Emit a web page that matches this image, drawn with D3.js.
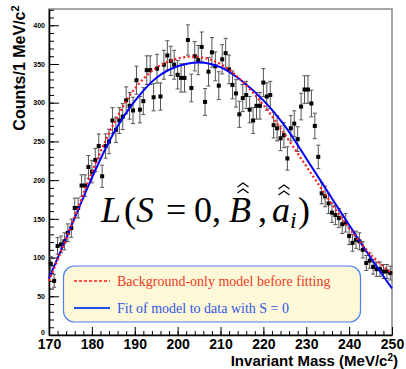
<!DOCTYPE html>
<html>
<head>
<meta charset="UTF-8">
<title>Invariant mass fit</title>
<script src="https://d3js.org/d3.v7.min.js"></script>
<style>
  body { margin: 0; background: #fff; }
  svg { display: block; }
</style>
</head>
<body>
<div id="chart"></div>
<script>
// binning: 100 bins of 0.8 MeV from 170 to 250
var binStart = 170, binWidth = 0.8;

// counts per bin
var counts = [92,70,115,117,121,132,138,164,164,193,
  193,217,211,226,244,205,244,250,277,265,
  277,282,303,296,290,329,291,302,342,342,
  307,344,308,349,361,354,349,336,332,332,
  381,319,360,355,372,301,340,365,347,322,
  356,364,343,323,312,285,306,310,291,277,
  296,296,326,308,310,271,267,254,258,228,
  267,273,253,295,317,317,299,270,230,183,
  179,170,158,155,151,143,145,128,119,123,
  121,110,93,96,88,85,85,82,82,80];

// model curves sampled every 5 MeV
var curveMass = [170,175,180,185,190,195,200,205,210,215,220,225,230,235,240,245,250];
var bgModel  = [70,138,210,272,318,345,357,359,350,328,297,259,218,177,138,104,79];
var fitModel = [73,138,203,260,302,332,347,352,346,328,303,270,228,185,142,100,60];

var xTicks = [170,180,190,200,210,220,230,240,250];
var yTicks = [0,50,100,150,200,250,300,350,400];

var W = 406, H = 369;
var svg = d3.select("#chart").append("svg")
  .attr("width", W).attr("height", H);

var x = d3.scaleLinear().domain([170, 250]).range([49, 392]);
var y = d3.scaleLinear().domain([0, 421]).range([335, 9]);

// frame
svg.append("rect")
  .attr("x", 49).attr("y", 9)
  .attr("width", 392 - 49).attr("height", 335 - 9)
  .attr("fill", "none").attr("stroke", "#888").attr("stroke-width", 1.5);

// minor ticks
svg.append("g")
  .attr("transform", "translate(49,0)")
  .call(d3.axisLeft(y).tickValues(d3.range(0, 421, 10)).tickSize(-5).tickFormat(""))
  .call(function(g) { g.select(".domain").remove(); });
svg.append("g")
  .attr("transform", "translate(0,335)")
  .call(d3.axisBottom(x).tickValues(d3.range(170, 251, 2)).tickSize(-4).tickFormat(""))
  .call(function(g) { g.select(".domain").remove(); });

// major ticks + labels
var yAxis = svg.append("g")
  .attr("transform", "translate(49,0)")
  .call(d3.axisLeft(y).tickValues(yTicks).tickSize(-10).tickPadding(4).tickSizeOuter(0));
yAxis.selectAll("text")
  .style("font", "bold 7px 'Liberation Sans', Arial, sans-serif")
  .attr("fill", "#000")
  .attr("dy", function(d) { return d === 0 ? "-0.1em" : "0.32em"; });

var xAxis = svg.append("g")
  .attr("transform", "translate(0,335)")
  .call(d3.axisBottom(x).tickValues(xTicks).tickSize(-8).tickPadding(4).tickSizeOuter(0));
xAxis.selectAll("text")
  .style("font", "bold 14px 'Liberation Sans', Arial, sans-serif")
  .attr("fill", "#000");
svg.selectAll(".domain").attr("stroke", "#000").attr("stroke-width", 1.5);
svg.selectAll(".tick line").attr("stroke", "#000");

// data points with error bars
var pts = counts.map(function(c, i) {
  return { m: binStart + binWidth * (i + 0.5), n: c, e: Math.sqrt(c) };
});
var pg = svg.append("g");
pg.selectAll(".eb").data(pts).enter().append("line")
  .attr("x1", function(d) { return x(d.m); })
  .attr("x2", function(d) { return x(d.m); })
  .attr("y1", function(d) { return y(d.n - d.e); })
  .attr("y2", function(d) { return y(d.n + d.e); })
  .attr("stroke", "#555").attr("stroke-width", 1);
[-1, 1].forEach(function(s) {
  pg.selectAll(".cap" + s).data(pts).enter().append("line")
    .attr("x1", function(d) { return x(d.m) - 2; })
    .attr("x2", function(d) { return x(d.m) + 2; })
    .attr("y1", function(d) { return y(d.n + s * d.e); })
    .attr("y2", function(d) { return y(d.n + s * d.e); })
    .attr("stroke", "#555").attr("stroke-width", 1);
});
pg.selectAll(".pt").data(pts).enter().append("rect")
  .attr("x", function(d) { return x(d.m) - 2; })
  .attr("y", function(d) { return y(d.n) - 2; })
  .attr("width", 4).attr("height", 4)
  .attr("fill", "#000");

// model curves
var line = function(vals) {
  return d3.line()
    .x(function(d, i) { return x(curveMass[i]); })
    .y(function(d) { return y(d); })
    .curve(d3.curveCatmullRom)(vals);
};
svg.append("path").attr("d", line(fitModel))
  .attr("fill", "none").attr("stroke", "#0000ff").attr("stroke-width", 2);
svg.append("path").attr("d", line(bgModel))
  .attr("fill", "none").attr("stroke", "#ff1a1a").attr("stroke-width", 2.2)
  .attr("stroke-dasharray", "2,2.5");

// big formula, laid out glyph by glyph like the TeX original
var f = svg.append("text")
  .attr("y", 222)
  .style("font-family", "'Liberation Serif', 'Times New Roman', serif")
  .style("font-size", "36px").attr("fill", "#000");
var parts = [
  { t: "L", x: 101, it: true },
  { t: "(", x: 124 },
  { t: "S", x: 136, it: true },
  { t: "=", x: 166 },
  { t: "0", x: 194 },
  { t: ",", x: 212 },
  { t: "B", x: 229, it: true },
  { t: ",", x: 258 },
  { t: "a", x: 272, it: true },
  { t: "i", x: 290, it: true, sub: true },
  { t: ")", x: 298 }
];
parts.forEach(function(p) {
  f.append("tspan")
    .attr("x", p.x)
    .attr("y", p.sub ? 228 : 222)
    .style("font-style", p.it ? "italic" : "normal")
    .style("font-size", p.sub ? "24px" : "36px")
    .text(p.t);
});

var fnode = f.node();
function hats(idx, tipY) {
  var ext = fnode.getExtentOfChar(idx);
  var cx = ext.x + ext.width / 2 + 3;
  [tipY, tipY + 6].forEach(function(ty) {
    svg.append("path")
      .attr("d", "M" + (cx - 5.5) + "," + (ty + 4) + "L" + cx + "," + ty + "L" + (cx + 5.5) + "," + (ty + 4))
      .attr("fill", "none").attr("stroke", "#000").attr("stroke-width", 1.2);
  });
}
hats(6, 183);
hats(8, 185);

// legend
var lg = svg.append("g");
lg.append("rect")
  .attr("x", 63.5).attr("y", 266).attr("width", 297).attr("height", 56)
  .attr("rx", 11).attr("ry", 11)
  .attr("fill", "#fdf9d8").attr("stroke", "#4d7cf2").attr("stroke-width", 1.2);
lg.append("line").attr("x1", 74).attr("x2", 110).attr("y1", 281).attr("y2", 281)
  .attr("stroke", "#ff1a1a").attr("stroke-width", 1.5).attr("stroke-dasharray", "3,2");
lg.append("line").attr("x1", 74).attr("x2", 110).attr("y1", 308).attr("y2", 308)
  .attr("stroke", "#1f4fe8").attr("stroke-width", 2);
lg.append("text").attr("x", 117).attr("y", 286)
  .style("font", "14px 'Liberation Serif', 'Times New Roman', serif")
  .attr("fill", "#ee3a24").text("Background-only model before fitting");
lg.append("text").attr("x", 117).attr("y", 313)
  .style("font", "14px 'Liberation Serif', 'Times New Roman', serif")
  .attr("fill", "#2f55e4").text("Fit of model to data with S = 0");

// axis titles
var yt = svg.append("text")
  .attr("transform", "translate(25,68) rotate(-90)")
  .attr("text-anchor", "middle")
  .style("font", "bold 16px 'Liberation Sans', Arial, sans-serif");
yt.append("tspan").text("Counts/1 MeV/c");
yt.append("tspan").attr("dy", -6).style("font-size", "11px").text("2");

var xt = svg.append("text")
  .attr("x", 398).attr("y", 365.5)
  .attr("text-anchor", "end")
  .style("font", "bold 15px 'Liberation Sans', Arial, sans-serif");
xt.append("tspan").text("Invariant Mass (MeV/c");
xt.append("tspan").attr("dy", -5).style("font-size", "10px").text("2");
xt.append("tspan").attr("dy", 5).text(")");
</script>
</body>
</html>
